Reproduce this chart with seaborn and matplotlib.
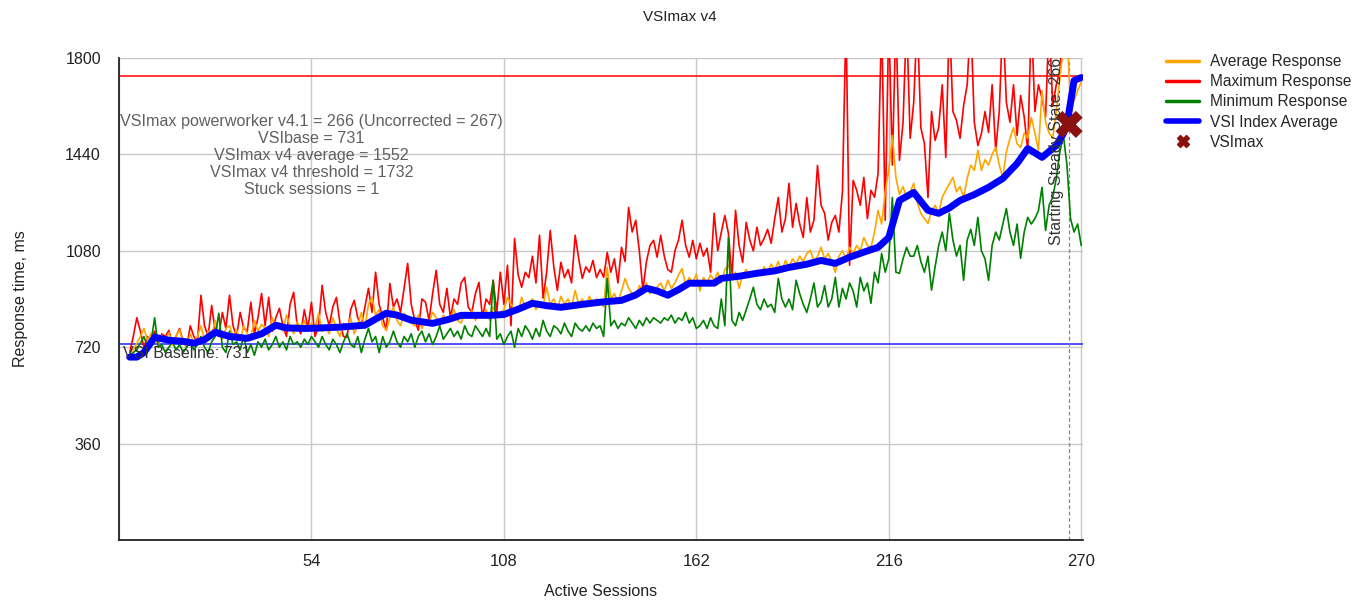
import matplotlib
matplotlib.use("Agg")
import matplotlib.pyplot as plt
import seaborn as sns
import pandas as pd
from matplotlib.lines import Line2D

# ---------------- data ----------------
sessions = list(range(3, 271))

avg_response = [
    700, 710, 735, 760, 790, 745, 770, 760, 730, 765,
    745, 775, 730, 760, 785, 740, 720, 770, 735, 760,
    800, 745, 780, 760, 820, 770, 750, 790, 800, 760,
    785, 745, 800, 770, 760, 820, 780, 805, 790, 760,
    830, 790, 810, 780, 840, 800, 770, 815, 790, 820,
    780, 810, 790, 847, 780, 800, 770, 830, 790, 760,
    810, 790, 830, 770, 800, 850, 790, 880, 906, 840,
    860, 800, 783, 830, 870, 820, 800, 847, 830, 810,
    800, 840, 790, 820, 810, 850, 830, 800, 840, 815,
    830, 860, 820, 810, 850, 830, 858, 820, 845, 830,
    860, 820, 870, 840, 850, 860, 906, 880, 860, 850,
    906, 870, 880, 900, 860, 890, 870, 944, 880, 900,
    860, 910, 880, 900, 870, 932, 880, 900, 870, 910,
    880, 900, 890, 870, 1018, 900, 920, 890, 930, 977,
    940, 920, 906, 950, 930, 960, 920, 940, 944, 960,
    930, 970, 940, 960, 990, 1014, 950, 980, 960, 993,
    930, 980, 960, 990, 970, 1000, 960, 1010, 1026, 980,
    1000, 940, 990, 1010, 980, 1000, 1007, 990, 1020, 1000,
    1030, 1010, 1040, 1000, 1044, 1020, 1050, 1030, 1060, 1040,
    1070, 1082, 1040, 1060, 1093, 1050, 1070, 1040, 1000, 1060,
    1080, 1050, 1093, 1070, 1100, 1080, 1130, 1100, 1093, 1150,
    1231, 1180, 1300, 1380, 1511, 1354, 1290, 1320, 1279, 1300,
    1332, 1260, 1220, 1200, 1182, 1230, 1250, 1220, 1280, 1306,
    1330, 1354, 1300, 1320, 1279, 1350, 1400, 1380, 1455, 1380,
    1420, 1400, 1440, 1466, 1400, 1354, 1450, 1500, 1540, 1480,
    1466, 1520, 1500, 1578, 1520, 1455, 1678, 1560, 1520, 1500,
    1600, 1720, 1850, 1900, 1620, 1640, 1680, 1710,
]

max_response = [
    700, 760, 830, 780, 720, 760, 740, 780, 730, 770,
    760, 783, 730, 760, 790, 740, 720, 800, 760, 740,
    914, 800, 760, 876, 780, 760, 850, 790, 914, 800,
    760, 850, 790, 780, 888, 770, 830, 921, 800, 906,
    780, 830, 865, 800, 760, 880, 925, 800, 770, 860,
    790, 888, 760, 800, 951, 850, 800, 870, 906, 810,
    760, 757, 860, 895, 830, 800, 870, 940, 850, 1000,
    880, 830, 783, 958, 870, 900, 850, 940, 1033, 880,
    820, 783, 900, 888, 820, 920, 1007, 880, 850, 940,
    830, 900, 880, 960, 981, 870, 850, 920, 962, 830,
    900, 880, 970, 850, 1000, 880, 1026, 800, 1126, 990,
    944, 1000, 980, 1060, 960, 1138, 903, 1000, 1156, 1020,
    932, 1037, 980, 1010, 960, 1138, 1050, 977, 1020, 1000,
    1044, 980, 1010, 981, 1074, 1000, 1050, 960, 1093, 1040,
    1242, 1150, 1194, 1080, 932, 1040, 1100, 1119, 1056, 1138,
    1060, 1010, 1000, 1080, 1120, 1194, 1100, 1056, 1119, 1050,
    1108, 1060, 1090, 1000, 1220, 1080, 1149, 1212, 1145, 980,
    1231, 1100, 1037, 1186, 1120, 1080, 1168, 1100, 1126, 1160,
    1108, 1200, 1279, 1150, 1200, 1332, 1168, 1257, 1180, 1130,
    1279, 1150, 1194, 1399, 1250, 1220, 1120, 1186, 1212, 1150,
    1300, 1950, 1026, 1343, 1306, 1250, 1354, 1200, 1306, 1280,
    1369, 1950, 1194, 1950, 1400, 1950, 1418, 1560, 1950, 1500,
    1634, 1950, 1540, 1480, 1279, 1600, 1492, 1540, 1700, 1429,
    1950, 1600, 1567, 1500, 1623, 1700, 1950, 1560, 1473, 1518,
    1600, 1522, 1700, 1455, 1600, 1950, 1634, 1560, 1700, 1511,
    1660, 1580, 1455, 1950, 1600, 1700, 1650, 1580, 1950, 1620,
    1700, 1750, 1950, 1950, 1950, 1950, 1950, 1950,
]

min_response = [
    690, 700, 710, 735, 760, 720, 740, 830, 720, 730,
    700, 720, 740, 710, 730, 700, 720, 740, 710, 730,
    760, 720, 700, 740, 760, 847, 720, 700, 780, 730,
    740, 710, 760, 700, 730, 690, 740, 720, 750, 710,
    730, 760, 720, 740, 710, 760, 730, 740, 720, 750,
    730, 760, 740, 720, 760, 730, 710, 750, 730, 700,
    740, 770, 730, 720, 760, 700, 750, 790, 740, 760,
    700, 760, 720, 740, 780, 740, 720, 760, 740, 770,
    720, 760, 780, 740, 770, 730, 760, 800, 750, 770,
    790, 760, 780, 750, 800, 770, 760, 800, 780, 760,
    790, 760, 970, 750, 770, 730, 760, 780, 720, 790,
    760, 800, 780, 750, 790, 760, 820, 780, 760, 800,
    790, 770, 810, 780, 760, 810, 790, 780, 800, 780,
    810, 790, 800, 760, 977, 800, 820, 790, 810, 800,
    830, 810, 790, 820, 800, 830, 810, 830, 820, 810,
    830, 820, 840, 810, 830, 820, 850, 810, 830, 790,
    800, 820, 790, 830, 800, 790, 900, 800, 1130, 820,
    800, 850, 820, 860, 900, 944, 880, 860, 900, 870,
    880, 850, 977, 900, 870, 900, 860, 970, 920, 880,
    850, 900, 960, 870, 890, 950, 870, 900, 981, 870,
    940, 900, 960, 930, 870, 981, 930, 960, 884, 1000,
    960, 1070, 1000, 1050, 1279, 1000, 996, 1050, 1093, 1060,
    1060, 1100, 1040, 1000, 1060, 933, 1020, 1100, 1150, 1080,
    1220, 1120, 1060, 1100, 970, 1120, 1160, 1100, 1205, 1080,
    1050, 970, 1100, 1150, 1120, 1180, 1238, 1150, 1100, 1180,
    1052, 1150, 1205, 1180, 1200, 1230, 1317, 1156, 1250, 1280,
    1350, 1450, 1510, 1400, 1200, 1150, 1180, 1100,
]

vsi_x = [3, 5, 7, 10, 14, 18, 21, 24, 27, 31, 36, 40, 44, 47, 52, 55, 62, 69, 72,
         75, 78, 82, 88, 92, 96, 104, 108, 112, 116, 120, 124, 130, 135, 141, 145,
         148, 151, 154, 157, 160, 167, 169, 174, 179, 184, 188, 193, 197, 201, 205,
         209, 213, 216, 219, 223, 227, 230, 233, 236, 240, 244, 248, 252, 255, 259,
         263, 265, 266, 268, 270]
vsi_avg = [683, 683, 700, 757, 746, 742, 735, 748, 776, 760, 753, 770, 802, 792,
           790, 791, 795, 802, 825, 847, 840, 821, 809, 822, 839, 839, 842, 862,
           884, 875, 869, 880, 888, 895, 915, 940, 930, 914, 935, 959, 959, 977,
           985, 996, 1005, 1018, 1030, 1044, 1033, 1056, 1075, 1093, 1130, 1268,
           1298, 1231, 1220, 1240, 1268, 1290, 1317, 1350, 1406, 1462, 1429, 1473,
           1518, 1552, 1716, 1727]

vsimax_session = 266
vsimax_value = 1552
vsibase = 731
vsimax_threshold = 1732

x_ticks = [0, 54, 108, 162, 216, 270]
x_tick_labels = ["", "54", "108", "162", "216", "270"]
y_ticks = [0, 360, 720, 1080, 1440, 1800]
y_tick_labels = ["", "360", "720", "1080", "1440", "1800"]

info_lines = [
    "VSImax powerworker v4.1 = 266 (Uncorrected = 267)",
    "VSIbase = 731",
    "VSImax v4 average = 1552",
    "VSImax v4 threshold = 1732",
    "Stuck sessions = 1",
]

# ---------------- plot ----------------
sns.set_style("white")
plt.rcParams["font.family"] = ["Liberation Sans", "DejaVu Sans"]

fig = plt.figure(figsize=(13.66, 6.0), dpi=100)
ax = fig.add_axes([119 / 1366, 60 / 600, (1083 - 119) / 1366, (540 - 58) / 600])

df = pd.DataFrame({"s": sessions, "avg": avg_response, "max": max_response, "min": min_response})
vdf = pd.DataFrame({"s": vsi_x, "v": vsi_avg})

ax.axhline(vsimax_threshold, color="#ff0000", lw=1.1, zorder=1)
ax.axhline(vsibase, color="#2222ff", lw=1.1, zorder=1)
ax.axvline(266.6, color="#888888", lw=0.9, ls=(0, (3, 2)), zorder=1)

sns.lineplot(data=df, x="s", y="max", color="#ff0000", lw=1.2, ax=ax, sort=False, estimator=None, zorder=3)
sns.lineplot(data=df, x="s", y="avg", color="#ffa500", lw=1.2, ax=ax, sort=False, estimator=None, zorder=4)
sns.lineplot(data=df, x="s", y="min", color="#008000", lw=1.2, ax=ax, sort=False, estimator=None, zorder=5)
sns.lineplot(data=vdf, x="s", y="v", color="#0000ff", lw=5, ax=ax, sort=False, estimator=None,
             zorder=6, solid_capstyle="round", solid_joinstyle="round")
ax.scatter([vsimax_session + 0.6], [vsimax_value], marker="X", s=380, color="#8b1010",
           edgecolors="none", zorder=8)

ax.set_xlim(0, 270.5)
ax.set_ylim(0, 1800)
ax.set_xticks(x_ticks)
ax.set_xticklabels(x_tick_labels)
ax.set_yticks(y_ticks)
ax.set_yticklabels(y_tick_labels)
ax.grid(True, color="#c8c8c8", lw=1)
ax.set_axisbelow(True)
for side in ["top", "right"]:
    ax.spines[side].set_visible(False)
for side in ["left", "bottom"]:
    ax.spines[side].set_color("#222222")
    ax.spines[side].set_linewidth(1.3)
ax.tick_params(axis="y", length=11, width=1.3, color="#222222", labelsize=11.5, labelcolor="#222222", pad=2)
ax.tick_params(axis="x", length=6, width=1.3, color="#222222", labelsize=12, labelcolor="#222222", pad=4)

ax.set_xlabel("Active Sessions", fontsize=11.5, color="#222222", labelpad=11)
ax.set_ylabel("Response time, ms", fontsize=11.5, color="#222222", labelpad=27)
fig.text(0.498, 0.972, "VSImax v4", ha="center", va="center", fontsize=11, color="#222222")

ax.text(54, 1592, "\n".join(info_lines), ha="center", va="top", fontsize=11.6,
        color="#606060", linespacing=1.17, zorder=9)
ax.text(1.2, 697, "VSI Baseline: 731", ha="left", va="center", fontsize=11.5, color="#333333", zorder=9)
ax.text(263.2, 1100, "Starting Steady State: 266", rotation=90, ha="center", va="bottom",
        fontsize=11.5, color="#333333", zorder=9)

handles = [
    Line2D([], [], color="#ffa500", lw=2.5),
    Line2D([], [], color="#ff0000", lw=2.5),
    Line2D([], [], color="#008000", lw=2.5),
    Line2D([], [], color="#0000ff", lw=4),
    Line2D([], [], color="#8b1010", marker="X", ls="none", markersize=9),
]
labels = ["Average Response", "Maximum Response", "Minimum Response", "VSI Index Average", "VSImax"]
fig.legend(handles, labels, loc="upper left", bbox_to_anchor=(1160 / 1366, 1 - 48 / 600),
           frameon=False, fontsize=11.2, handlelength=2.1, labelspacing=0.33, handletextpad=0.7,
           borderaxespad=0)

fig.savefig("out.png", dpi=100)
